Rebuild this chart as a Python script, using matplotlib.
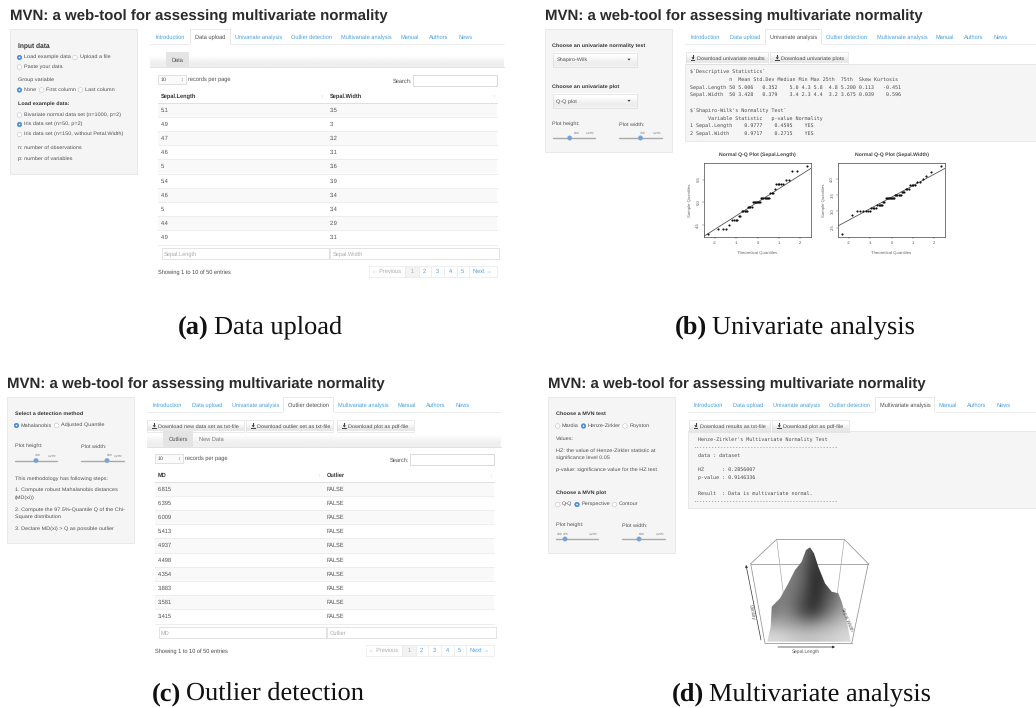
import matplotlib
matplotlib.use("Agg")
import matplotlib.pyplot as plt
from matplotlib.patches import Rectangle, Circle, Polygon

plt.rcParams['font.family'] = ['Liberation Sans', 'DejaVu Sans']
plt.rcParams['text.hinting'] = 'no_hinting'

W, H = 1036, 708
TEXT = '#505050'
DARK = '#333333'
LINK = '#4aa0dc'
BLUE = '#4a90d9'

TITLE = "MVN: a web-tool for assessing multivariate normality"
tabs = ["Introduction", "Data upload", "Univariate analysis", "Outlier detection",
        "Multivariate analysis", "Manual", "Authors", "News"]
tab_x0 = [155.3, 194.7, 235, 290.7, 341.3, 400.7, 429, 458.3]
tab_x1 = [184, 224, 280, 330.3, 390, 418, 447.7, 472]

sepal_length = ["5.1", "4.9", "4.7", "4.6", "5", "5.4", "4.6", "5", "4.4", "4.9"]
sepal_width = ["3.5", "3", "3.2", "3.1", "3.6", "3.9", "3.4", "3.4", "2.9", "3.1"]
md_values = ["6.815", "6.395", "6.009", "5.413", "4.937", "4.498", "4.354", "3.883", "3.581", "3.415"]
outlier_values = ["FALSE"] * 10

b_output = ["$`Descriptive Statistics`",
            "             n  Mean Std.Dev Median Min Max 25th  75th  Skew Kurtosis",
            "Sepal.Length 50 5.006   0.352    5.0 4.3 5.8  4.8 5.200 0.113   -0.451",
            "Sepal.Width  50 3.428   0.379    3.4 2.3 4.4  3.2 3.675 0.039    0.596",
            "",
            "$`Shapiro-Wilk's Normality Test`",
            "      Variable Statistic   p-value Normality",
            "1 Sepal.Length    0.9777    0.4595    YES",
            "2 Sepal.Width     0.9717    0.2715    YES"]
d_output = [(698, 439.5, "Henze-Zirkler's Multivariate Normality Test"),
            (693, 447, "-" * 48),
            (698, 455, "data : dataset"),
            (698, 469.5, "HZ      : 0.2856007"),
            (698, 477.5, "p-value : 0.9146336"),
            (698, 493, "Result  : Data is multivariate normal."),
            (693, 501, "-" * 48)]

# normal quantiles for n=50
theoretical = [-2.326, -1.881, -1.645, -1.476, -1.341, -1.227, -1.126, -1.036, -0.954, -0.878,
               -0.806, -0.739, -0.674, -0.613, -0.553, -0.496, -0.440, -0.385, -0.332, -0.279,
               -0.228, -0.176, -0.126, -0.075, -0.025, 0.025, 0.075, 0.126, 0.176, 0.228,
               0.279, 0.332, 0.385, 0.440, 0.496, 0.553, 0.613, 0.674, 0.739, 0.806,
               0.878, 0.954, 1.036, 1.126, 1.227, 1.341, 1.476, 1.645, 1.881, 2.326]
qq_length = [4.3, 4.4, 4.4, 4.4, 4.5, 4.6, 4.6, 4.6, 4.6, 4.7, 4.7, 4.8, 4.8, 4.8, 4.8, 4.8,
             4.9, 4.9, 4.9, 4.9, 5.0, 5.0, 5.0, 5.0, 5.0, 5.0, 5.0, 5.0, 5.1, 5.1, 5.1, 5.1,
             5.1, 5.1, 5.1, 5.1, 5.2, 5.2, 5.2, 5.3, 5.4, 5.4, 5.4, 5.4, 5.4, 5.5, 5.5, 5.7, 5.7, 5.8]
qq_width = [2.3, 2.9, 3.0, 3.0, 3.0, 3.0, 3.0, 3.0, 3.1, 3.1, 3.1, 3.1, 3.2, 3.2, 3.2, 3.2, 3.2,
            3.3, 3.3, 3.4, 3.4, 3.4, 3.4, 3.4, 3.4, 3.4, 3.4, 3.4, 3.5, 3.5, 3.5, 3.5, 3.5, 3.5,
            3.6, 3.6, 3.6, 3.7, 3.7, 3.7, 3.8, 3.8, 3.8, 3.8, 3.9, 3.9, 4.0, 4.1, 4.2, 4.4]

# density surface, grey level (rows top to bottom)
surface_grey = [[.58, .58, .54, .48, .22, .22, .48, .62],
                [.58, .56, .50, .38, .20, .24, .45, .62],
                [.56, .54, .48, .40, .16, .24, .42, .60],
                [.52, .52, .46, .36, .15, .26, .42, .62],
                [.46, .50, .44, .30, .16, .32, .46, .60],
                [.48, .54, .46, .28, .22, .40, .56, .68],
                [.68, .66, .62, .58, .58, .66, .72, .78],
                [.86, .84, .80, .78, .78, .80, .82, .86]]
surface_outline = [(767.3, 641.7), (770.7, 626.7), (771.7, 606.7), (780, 598.3), (788.3, 583.3),
                   (795, 570), (801.7, 561.7), (806, 550), (810, 547.3), (814, 553.3),
                   (818.3, 566.7), (825, 583.3), (831.7, 591.7), (838.3, 593.3), (841.7, 601.7),
                   (846.7, 620), (850.7, 641.7)]
box_lines = [[(750.7, 563.7), (868.3, 563.7)], [(776.7, 539.3), (844.3, 539.3)],
             [(776.7, 539.3), (750.7, 563.7)], [(844.3, 539.3), (868.3, 563.7)],
             [(750.7, 563.7), (765, 643.3)], [(868.3, 563.7), (851.7, 643.3)],
             [(765, 643.3), (851.7, 643.3)], [(776.7, 539.3), (783.3, 593.3)],
             [(844.3, 539.3), (837.3, 593.3)]]

fig = plt.figure(figsize=(W / 100, H / 100), dpi=100)
ax = fig.add_axes([0, 0, 1, 1])
ax.set_xlim(0, W)
ax.set_ylim(H, 0)
ax.axis('off')


def txt(x, y, s, size=5.45, color=TEXT, **kw):
    # size is in pixels, y is the middle of the line
    if 'rotation' in kw:
        return ax.text(x, y, s, fontsize=size * 0.72, color=color, va='center', **kw)
    return ax.text(x, y + size * 0.36, s, fontsize=size * 0.72, color=color, va='baseline', **kw)


def box(x0, y0, x1, y1, fc='white', ec='#dddddd', lw=0.6, z=1):
    ax.add_patch(Rectangle((x0, y0), x1 - x0, y1 - y0, fc=fc, ec=ec, lw=lw, zorder=z))


def gradient(x0, y0, x1, y1, top='#ffffff', bottom='#ededed'):
    tc = matplotlib.colors.to_rgb(top)
    bc = matplotlib.colors.to_rgb(bottom)
    ax.imshow([[tc], [bc]], extent=(x0, x1, y1, y0), aspect='auto', interpolation='bilinear', zorder=1)


def radio(x, y, on=False):
    if on:
        ax.add_patch(Circle((x, y), 2.3, fc=BLUE, ec='#3a78c0', lw=0.3, zorder=3))
        ax.add_patch(Circle((x, y), 0.8, fc='white', ec='none', zorder=4))
    else:
        ax.add_patch(Circle((x, y), 2.3, fc='white', ec='#c4c4c4', lw=0.4, zorder=3))


def slider(x0, x1, y, handle, labels):
    ax.plot([x0, x1], [y, y], color='#a9a9a9', lw=1.0, zorder=2, solid_capstyle='round')
    ax.add_patch(Circle((handle, y), 2.2, fc='#6fa3dc', ec='#88aacc', lw=0.3, zorder=3))
    for lx, s in labels:
        txt(lx, y - 5.5, s, size=3.4, ha='center', color='#777777')


def sidebar(x0, y0, x1, y1):
    box(x0, y0, x1, y1, fc='#f5f5f5', ec='#e6e6e6', lw=0.6)


def tabbar(dx, y, active, x_end):
    ax.plot([150 + dx, x_end], [y + 7, y + 7], color='#e9e9e9', lw=0.6, zorder=1)
    for i, name in enumerate(tabs):
        if i == active:
            box(tab_x0[i] + dx - 5, y - 8, tab_x1[i] + dx + 5.5, y + 7.3, ec='#e4e4e4', z=2)
            ax.plot([tab_x0[i] + dx - 4.8, tab_x1[i] + dx + 5.3], [y + 7.3, y + 7.3], color='white', lw=0.9, zorder=3)
        txt(tab_x0[i] + dx, y, name, size=5.6, color=TEXT if i == active else LINK, zorder=4)


def button(x0, x1, y0, y1, s):
    gradient(x0, y0, x1, y1, '#ffffff', '#e8e8e8')
    box(x0, y0, x1, y1, fc='none', ec='#dadada', lw=0.4, z=2)
    ax.add_patch(Polygon([(x0 + 5, y0 + 7.8), (x0 + 9.5, y0 + 7.8), (x0 + 9.5, y0 + 8.8), (x0 + 5, y0 + 8.8)],
                         fc='#444444', ec='none', zorder=3))
    ax.add_patch(Polygon([(x0 + 5.8, y0 + 5.2), (x0 + 8.7, y0 + 5.2), (x0 + 7.25, y0 + 7.5)],
                         fc='#444444', ec='none', zorder=3))
    ax.plot([x0 + 7.25, x0 + 7.25], [y0 + 3, y0 + 5.5], color='#444444', lw=0.8, zorder=3)
    txt(x0 + 11, (y0 + y1) / 2, s, zorder=3, color='#4a4a4a')


def table(x0, x1, col2, head_y, rows_a, rows_b, head_a, head_b):
    # controls above the table
    box(x0, head_y - 21, x0 + 28, head_y - 12, fc='#fafafa', ec='#cccccc', lw=0.4)
    txt(x0 + 3, head_y - 16.5, "10", size=5.4)
    txt(x0 + 24, head_y - 16.5, "\u2195", size=5, color='#777777', ha='center')
    txt(x0 + 30, head_y - 17, "records per page", size=5.6)
    txt(x1 - 104, head_y - 15.5, "Search:", size=5.6)
    box(x1 - 84, head_y - 21, x1, head_y - 10, ec='#cccccc', lw=0.5)
    txt(x0 + 3, head_y, head_a, size=5.6, color=DARK, fontweight='bold')
    txt(col2, head_y, head_b, size=5.6, color=DARK, fontweight='bold')
    txt(x0 + 164, head_y, "\u2195", size=5, color='#cccccc', ha='center')
    txt(x1 - 3, head_y, "\u2195", size=5, color='#cccccc', ha='center')
    top = head_y + 6.5
    ax.plot([x0, x1], [top, top], color='#e0e0e0', lw=0.7, zorder=2)
    for i in range(10):
        yt = top + i * 14.2
        if i % 2 == 0:
            ax.add_patch(Rectangle((x0, yt), x1 - x0, 14.2, fc='#f9f9f9', ec='none', zorder=1))
        ax.plot([x0, x1], [yt + 14.2, yt + 14.2], color='#ebebeb', lw=0.6, zorder=2)
        txt(x0 + 3, yt + 7.1, rows_a[i], size=5.6)
        txt(col2, yt + 7.1, rows_b[i], size=5.6)
    fy = top + 142 + 3.5
    box(x0 + 3.5, fy, col2 - 1, fy + 11, ec='#dedede', lw=0.6)
    box(col2, fy, x1 + 2.5, fy + 11, ec='#dedede', lw=0.6)
    txt(x0 + 6, fy + 5.5, head_a, size=5.6, color='#aaaaaa')
    txt(col2 + 3, fy + 5.5, head_b, size=5.6, color='#aaaaaa')
    txt(x0, fy + 24, "Showing 1 to 10 of 50 entries", size=5.6, color='#4a4a4a')
    # pagination
    py = fy + 17.5
    cells = [0, 36.7, 50, 62.4, 75, 88.4, 100, 128.4]
    names = ["\u2190 Previous", "1", "2", "3", "4", "5", "Next \u2192"]
    px = x1 - 128
    for i, s in enumerate(names):
        fc = '#f3f3f3' if i == 1 else 'white'
        box(px + cells[i], py, px + cells[i + 1], py + 11, fc=fc, ec='#e9e9e9', lw=0.5)
        col = '#aaaaaa' if i < 2 else LINK
        txt(px + (cells[i] + cells[i + 1]) / 2, py + 5.5, s, size=5.6, color=col, ha='center', zorder=3)


def navbar(x0, x1, y0, y1):
    gradient(x0, y0, x1, y1, '#ffffff', '#efefef')
    ax.plot([x0, x1], [y1, y1], color='#e2e2e2', lw=0.7, zorder=2)


def pill(x0, x1, y0, y1, s):
    ax.add_patch(Rectangle((x0, y0), x1 - x0, y1 - y0, fc='#e4e4e4', ec='none', zorder=2))
    txt((x0 + x1) / 2, (y0 + y1) / 2, s, size=5.6, ha='center', zorder=3)


def caption(x, y, label, s):
    t = ax.text(x, y, label, fontsize=19, family='Liberation Serif', fontweight='bold',
                color='#111111', va='baseline', ha='left')
    fig.canvas.draw()
    ext = t.get_window_extent()
    ax.text(ext.x1 + 5, y, s, fontsize=19, family='Liberation Serif', color='#111111', va='baseline', ha='left')


def select(x0, x1, y0, y1, s):
    gradient(x0, y0, x1, y1, '#ffffff', '#eeeeee')
    box(x0, y0, x1, y1, fc='none', ec='#dcdcdc', lw=0.5, z=2)
    txt(x0 + 4, (y0 + y1) / 2, s, zorder=3)
    cx, cy = x1 - 7.5, (y0 + y1) / 2
    ax.add_patch(Polygon([(cx - 1.6, cy - 0.8), (cx + 1.6, cy - 0.8), (cx, cy + 1)], fc='#333333', ec='none', zorder=3))


# titles
for x, y in [(10, 15), (545, 15), (7, 383), (548, 383)]:
    txt(x, y, TITLE, size=15, color='#2b2b2b', fontweight='bold')

# (a) data upload
sidebar(10, 29, 137, 173.5)
txt(17.5, 45, "Input data", size=6.6, color=DARK, fontweight='bold')
for x, y, s, on in [(19.5, 57.5, "Load example data", True), (75, 57.5, "Upload a file", False),
                    (19.5, 67, "Paste your data", False), (19.5, 90, "None", True),
                    (41.5, 90, "First column", False), (80.5, 90, "Last column", False),
                    (19.5, 115, "Bivariate normal data set (n=1000, p=2)", False),
                    (19.5, 124.5, "Iris data set (n=50, p=2)", True),
                    (19.5, 134.5, "Iris data set (n=150, without Petal.Width)", False)]:
    radio(x, y, on)
    txt(x + 4.5, y - 1, s)
txt(17.5, 79.5, "Group variable")
txt(17.5, 103, "Load example data:", color=DARK, fontweight='bold')
txt(17.5, 147, "n: number of observations")
txt(17.5, 158.5, "p: number of variables")
tabbar(0, 37, 1, 504)
navbar(150, 504, 52, 67)
pill(166, 188.5, 52, 67, "Data")
table(158, 496.5, 330, 96, sepal_length, sepal_width, "Sepal.Length", "Sepal.Width")
caption(178, 333, "(a)", "Data upload")

# (b) univariate analysis
sidebar(545, 29, 672, 152)
txt(552.5, 45, "Choose an univariate normality test", color=DARK, fontweight='bold')
select(552.5, 636.5, 52.5, 66.5, "Shapiro-Wilk")
txt(552.5, 86, "Choose an univariate plot", color=DARK, fontweight='bold')
select(552.5, 636.5, 94, 107.5, "Q-Q plot")
txt(552.5, 123.5, "Plot height:")
txt(619, 123.5, "Plot width:")
slider(552.5, 595, 138, 569.7, [(577, "600"), (590, "1,200")])
slider(619, 661.5, 138, 640.5, [(642.5, "700"), (657, "1,200")])
tabbar(535.3, 37, 2, 1036)
button(685.7, 768, 52, 63.5, "Download univariate results")
button(770, 848, 52, 63.5, "Download univariate plots")
box(685, 64, 1040, 140.5, fc='#f5f5f5', ec='#e2e2e2', lw=0.5)
for i, line in enumerate(b_output):
    txt(690, 71.2 + i * 7.75, line, size=4.95, family='DejaVu Sans Mono', color='#4a4a4a', zorder=3)
caption(675, 333, "(b)", "Univariate analysis")

# (c) outlier detection
sidebar(7, 397, 134, 543)
txt(14.7, 413, "Select a detection method", color=DARK, fontweight='bold')
radio(16.5, 425.5, True)
txt(20.7, 424.5, "Mahalanobis")
radio(56.7, 425.5)
txt(61, 424.5, "Adjusted Quantile")
txt(14.7, 445.5, "Plot height:")
txt(81, 445.5, "Plot width:")
slider(14.7, 57, 460.5, 36, [(37.5, "700"), (52, "1,200")])
slider(81, 123.5, 460.5, 107, [(109.7, "600"), (118, "1,200")])
for y, s in [(478, "This methodology has following steps:"),
             (489.5, "1. Compute robust Mahalanobis distances"), (497, "(MD(xi))"),
             (509, "2. Compute the 97.5%-Quantile Q of the Chi-"), (516.5, "Square distribution"),
             (528, "3. Declare MD(xi) > Q as possible outlier")]:
    txt(14.7, y, s)
tabbar(-3, 405, 3, 501)
button(147, 244, 420, 432, "Download new data set as txt-file")
button(246, 333, 420, 432, "Download outlier set as txt-file")
button(337, 414, 420, 432, "Download plot as pdf-file")
navbar(147, 501, 431, 447)
pill(163, 193, 431, 447, "Outliers")
txt(199, 439, "New Data", size=5.6, color='#777777')
table(155, 493.5, 327, 475, md_values, outlier_values, "MD", "Outlier")
caption(152, 700, "(c)", "Outlier detection")

# (d) multivariate analysis
sidebar(548, 397, 675, 553)
txt(555.7, 413, "Choose a MVN test", color=DARK, fontweight='bold')
for x, y, s, on in [(557.7, 426, "Mardia", False), (583.5, 426, "Henze-Zirkler", True), (625, 426, "Royston", False),
                    (557.7, 504.5, "Q-Q", False), (577, 504.5, "Perspective", True), (614.5, 504.5, "Contour", False)]:
    radio(x, y, on)
    txt(x + 4.2, y - 1.2, s)
for y, s in [(438, "Values:"), (449.5, "HZ: the value of Henze-Zirkler statistic at"),
             (457, "significance level 0.05"), (469, "p-value: significance value for the HZ test")]:
    txt(555.7, y, s)
txt(555.7, 492, "Choose a MVN plot", color=DARK, fontweight='bold')
txt(555.7, 524.5, "Plot height:")
txt(622, 524.5, "Plot width:")
slider(555.7, 598, 539, 565, [(560, "300"), (565.5, "425"), (592.7, "1,200")])
slider(622, 665, 539, 639, [(642, "600"), (660, "1,200")])
tabbar(538.3, 405, 4, 1036)
button(688.5, 770, 420, 432, "Download results as txt-file")
button(772, 849, 420, 432, "Download plot as pdf-file")
box(688, 431, 1040, 508, fc='#f5f5f5', ec='#e2e2e2', lw=0.5)
for x, y, s in d_output:
    txt(x, y, s, size=4.95, family='DejaVu Sans Mono', color='#4a4a4a', zorder=3)
caption(672, 700, "(d)", "Multivariate analysis")

# perspective plot
for seg in box_lines[:7]:
    ax.plot(*zip(*seg), color='#9a9a9a', lw=0.6, zorder=2)
for seg in box_lines[7:]:
    ax.plot(*zip(*seg), color='#aaaaaa', lw=0.5, zorder=2)
surf_x = [p[0] for p in surface_outline]
surf_y = [p[1] for p in surface_outline]
im = ax.imshow(surface_grey, extent=(min(surf_x), max(surf_x), max(surf_y), min(surf_y)), cmap='gray',
               vmin=0, vmax=1, aspect='auto', interpolation='bicubic', zorder=3)
clip = Polygon(surface_outline, closed=True, transform=ax.transData, fc='none', ec='none')
ax.add_patch(clip)
im.set_clip_path(clip)
ax.annotate("", xy=(746, 565), xytext=(761, 640), zorder=4,
            arrowprops=dict(arrowstyle='-|>', color='#333333', lw=0.5, mutation_scale=3.5, shrinkA=0, shrinkB=0))
ax.annotate("", xy=(835, 647), xytext=(778, 647), zorder=4,
            arrowprops=dict(arrowstyle='-|>', color='#333333', lw=0.5, mutation_scale=3.5, shrinkA=0, shrinkB=0))
txt(752, 612, "Density", size=4.8, rotation=-78, ha='center', color='#555555', zorder=5)
txt(806, 651, "Sepal.Length", size=4.8, ha='center', color='#555555', zorder=5)
txt(847, 620, "Sepal.Width", size=4.8, rotation=-68, ha='center', color='#555555', zorder=5)
ax.set_xlim(0, W)
ax.set_ylim(H, 0)


# Q-Q plots
def qq_plot(x0, x1, y0, y1, sample, line_a, line_b, yticks, name):
    q = fig.add_axes([x0 / W, 1 - y1 / H, (x1 - x0) / W, (y1 - y0) / H])
    q.patch.set_alpha(0)
    q.scatter(theoretical, sample, s=2.4, color='#111111', linewidths=0, zorder=3)
    q.axline((0, line_a), slope=line_b, color='#555555', lw=0.6, zorder=2)
    lo, hi = min(sample), max(sample)
    pad = (hi - lo) * 0.04
    q.set_xlim(-2.512, 2.512)
    q.set_ylim(lo - pad, hi + pad)
    q.set_xticks([-2, -1, 0, 1, 2])
    q.set_xticklabels(["-2", "-1", "0", "1", "2"])
    q.set_yticks(yticks)
    q.set_yticklabels([f"{t:.1f}" for t in yticks], rotation=90, va='center')
    q.tick_params(labelsize=3.0, length=1.5, width=0.3, pad=1.5, colors='#555555')
    for s in q.spines.values():
        s.set_linewidth(0.5)
        s.set_color('#444444')
    q.set_title(name, fontsize=3.7, color='#444444', fontweight='bold', pad=5.5)
    q.set_xlabel("Theoretical Quantiles", fontsize=3.1, color='#666666', labelpad=5)
    q.set_ylabel("Sample Quantiles", fontsize=3.1, color='#666666', labelpad=3.5)


qq_plot(704.3, 810.7, 163.3, 236.7, qq_length, 5.0, 0.2965, [4.5, 5.0, 5.5], "Normal Q-Q Plot (Sepal.Length)")
qq_plot(838.3, 944.7, 163.3, 236.7, qq_width, 3.4375, 0.352, [2.5, 3.0, 3.5, 4.0], "Normal Q-Q Plot (Sepal.Width)")

fig.savefig("out.png", dpi=100)
